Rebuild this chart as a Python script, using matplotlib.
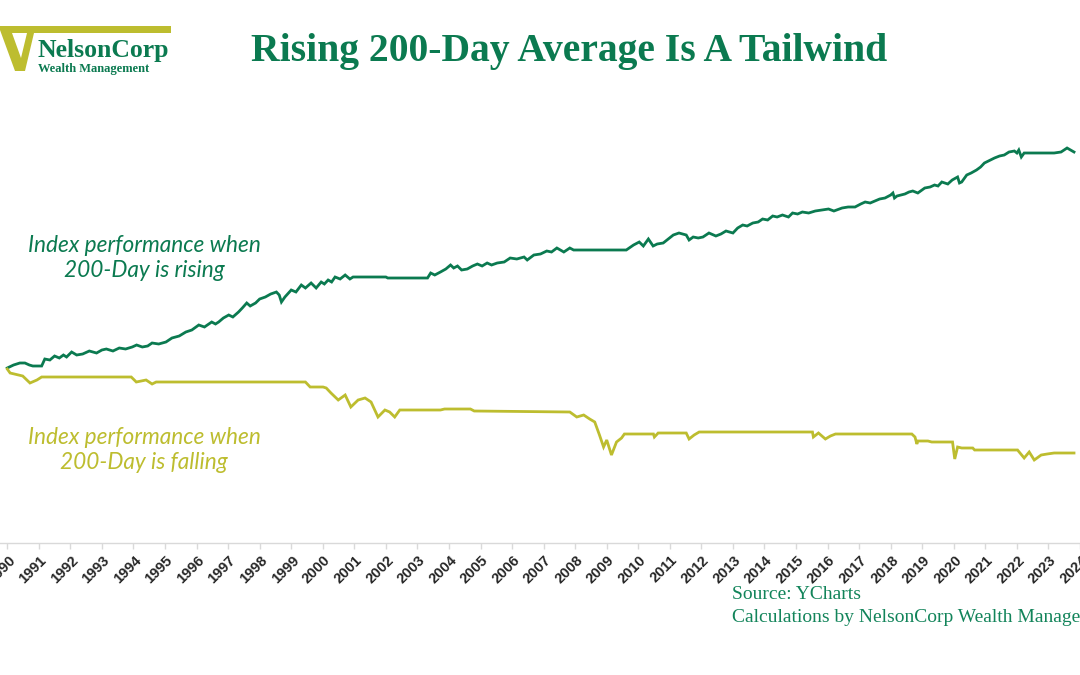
import matplotlib

matplotlib.use("Agg")
import matplotlib.pyplot as plt
from matplotlib.patches import Polygon
from matplotlib.transforms import ScaledTranslation

# Figure size in pixels (dpi 100)
W, H = 1080, 675

GREEN = "#0b7a50"
OLIVE = "#bdbd2f"
TEXT_GREEN = "#12845a"

# Year ticks along the bottom axis
years = list(range(1990, 2025))
year_labels = [str(y) for y in years]

# Index performance when the 200-day average is rising (relative level)
rising_t = [
    1990.00, 1990.20, 1990.40, 1990.56, 1990.70, 1990.81, 1991.09, 1991.19,
    1991.35, 1991.50, 1991.65, 1991.78, 1991.88, 1992.04, 1992.20, 1992.39,
    1992.60, 1992.83, 1993.00, 1993.14, 1993.35, 1993.55, 1993.75, 1993.96,
    1994.10, 1994.28, 1994.45, 1994.59, 1994.80, 1995.03, 1995.22, 1995.45,
    1995.66, 1995.85, 1996.07, 1996.25, 1996.48, 1996.60, 1996.70, 1996.85,
    1997.02, 1997.15, 1997.33, 1997.45, 1997.59, 1997.70, 1997.87, 1998.00,
    1998.18, 1998.35, 1998.53, 1998.62, 1998.69, 1998.80, 1999.00, 1999.15,
    1999.32, 1999.45, 1999.63, 1999.79, 1999.95, 2000.05, 2000.17, 2000.28,
    2000.39, 2000.55, 2000.71, 2000.86, 2000.96, 2002.00, 2002.06, 2003.32,
    2003.42, 2003.55, 2003.73, 2003.90, 2004.05, 2004.15, 2004.27, 2004.40,
    2004.58, 2004.75, 2004.90, 2005.05, 2005.21, 2005.35, 2005.53, 2005.75,
    2005.94, 2006.15, 2006.38, 2006.48, 2006.69, 2006.90, 2007.10, 2007.25,
    2007.42, 2007.64, 2007.83, 2007.95, 2009.62, 2009.85, 2010.03, 2010.16,
    2010.32, 2010.47, 2010.60, 2010.79, 2010.95, 2011.11, 2011.29, 2011.52,
    2011.61, 2011.74, 2011.90, 2012.05, 2012.24, 2012.46, 2012.62, 2012.78,
    2013.00, 2013.15, 2013.31, 2013.45, 2013.63, 2013.80, 2013.94, 2014.10,
    2014.26, 2014.40, 2014.57, 2014.76, 2014.89, 2015.05, 2015.20, 2015.40,
    2015.61, 2016.03, 2016.20, 2016.46, 2016.65, 2016.87, 2017.05, 2017.19,
    2017.35, 2017.50, 2017.65, 2017.82, 2018.00, 2018.07, 2018.12, 2018.20,
    2018.45, 2018.58, 2018.70, 2018.86, 2019.08, 2019.25, 2019.39, 2019.50,
    2019.62, 2019.81, 2019.95, 2020.12, 2020.18, 2020.25, 2020.41, 2020.55,
    2020.72, 2020.85, 2020.97, 2021.10, 2021.29, 2021.45, 2021.60, 2021.75,
    2021.92, 2022.00, 2022.06, 2022.14, 2022.23, 2023.18, 2023.40, 2023.59,
    2023.81,
]
rising_level = [
    175, 178, 180, 180, 178, 177, 177, 184,
    183, 187, 185, 188, 186, 191, 188, 189,
    192, 190, 193, 194, 192, 195, 194, 196,
    198, 196, 197, 200, 199, 201, 205, 207,
    211, 213, 218, 216, 221, 219, 221, 225,
    228, 226, 231, 235, 240, 237, 240, 244,
    246, 249, 251, 248, 241, 246, 253, 251,
    258, 255, 260, 255, 261, 259, 263, 261,
    266, 264, 268, 264, 266, 266, 265, 265,
    270, 268, 271, 274, 278, 275, 277, 273,
    274, 277, 279, 277, 280, 278, 280, 281,
    285, 284, 286, 283, 288, 289, 292, 291,
    295, 291, 295, 293, 293, 298, 301, 297,
    304, 297, 299, 300, 304, 308, 310, 308,
    303, 306, 305, 306, 310, 307, 309, 312,
    310, 315, 318, 317, 320, 321, 324, 323,
    327, 326, 328, 326, 330, 329, 331, 330,
    332, 334, 332, 335, 336, 336, 339, 341,
    340, 342, 344, 345, 348, 350, 345, 347,
    349, 351, 352, 350, 355, 356, 358, 357,
    361, 359, 363, 366, 360, 361, 368, 370,
    373, 376, 380, 382, 385, 387, 388, 391,
    392, 390, 393, 386, 390, 390, 391, 395,
    391,
]

# Index performance when the 200-day average is falling (relative level)
falling_t = [
    1990.00, 1990.09, 1990.49, 1990.72, 1990.94, 1991.09, 1993.93, 1994.09,
    1994.40, 1994.59, 1994.72, 1999.45, 1999.60, 2000.01, 2000.11, 2000.26,
    2000.49, 2000.71, 2000.89, 2001.12, 2001.34, 2001.53, 2001.75, 2001.97,
    2002.12, 2002.28, 2002.44, 2003.73, 2003.86, 2004.68, 2004.80, 2007.83,
    2008.05, 2008.27, 2008.46, 2008.62, 2008.77, 2008.90, 2009.00, 2009.15,
    2009.31, 2009.47, 2009.56, 2010.48, 2010.51, 2010.63, 2011.52, 2011.61,
    2011.77, 2011.93, 2015.52, 2015.55, 2015.71, 2015.93, 2016.09, 2016.25,
    2018.67, 2018.77, 2018.83, 2018.86, 2019.18, 2019.30, 2019.96, 2020.03,
    2020.12, 2020.25, 2020.60, 2020.66, 2022.02, 2022.23, 2022.39, 2022.55,
    2022.77, 2022.96, 2023.18, 2023.81,
]
falling_level = [
    174, 170, 167, 160, 163, 166, 166, 161,
    163, 159, 161, 161, 156, 156, 155, 150,
    143, 148, 136, 143, 145, 141, 126, 133,
    131, 126, 133, 133, 134, 134, 132, 131,
    126, 128, 124, 121, 108, 96, 103, 88,
    101, 105, 109, 109, 106, 110, 110, 104,
    108, 111, 111, 106, 110, 104, 107, 109,
    109, 106, 99, 102, 102, 101, 101, 84,
    96, 95, 95, 93, 93, 85, 91, 83,
    88, 89, 90, 90,
]


def fx(x):
    return x / W


def fy(y):
    return 1 - y / H


def draw_logo(fig):
    """Olive mark plus the NelsonCorp wordmark in the top-left corner."""
    mark = [(0, 26), (171, 26), (171, 33), (34, 33), (25, 71), (15, 71), (0, 30)]
    fig.patches.append(Polygon([(fx(x), fy(y)) for x, y in mark], closed=True,
                               transform=fig.transFigure, color=OLIVE, lw=0))
    notch = [(12, 33), (27, 33), (21, 58)]
    fig.patches.append(Polygon([(fx(x), fy(y)) for x, y in notch], closed=True,
                               transform=fig.transFigure, color="white", lw=0))
    fig.text(fx(37), fy(57), "NelsonCorp", family="Liberation Serif",
             weight="bold", size=18.5, color=GREEN, ha="left", va="baseline")
    fig.text(fx(38), fy(72), "Wealth Management", family="Liberation Serif",
             weight="bold", size=9, color=GREEN, ha="left", va="baseline")


def main():
    fig = plt.figure(figsize=(W / 100, H / 100), dpi=100)

    # axis line sits at y=543 px; 1990 tick at x=7.3 px, 31.73 px per year
    ax = fig.add_axes([0, fy(543), 1, (543 - 100) / H])
    x0 = 1990 + (0 - 7.3) / 31.73
    x1 = 1990 + (W - 7.3) / 31.73
    ax.set_xlim(x0, x1)
    ax.set_ylim(0, 443)

    ax.plot(rising_t, rising_level, color=GREEN, lw=2.0, solid_joinstyle="miter")
    ax.plot(falling_t, falling_level, color=OLIVE, lw=2.0, solid_joinstyle="miter")

    for side in ("top", "right", "left"):
        ax.spines[side].set_visible(False)
    ax.spines["bottom"].set_color("#d9d9d9")
    ax.spines["bottom"].set_linewidth(1.0)
    ax.set_yticks([])
    ax.set_xticks(years)
    ax.set_xticklabels(year_labels, rotation=45, ha="right", va="center",
                       rotation_mode="anchor", family="Liberation Sans",
                       weight="bold", size=10.5, color="#262626")
    ax.tick_params(axis="x", direction="out", length=4, width=1,
                   color="#d9d9d9", pad=7)
    # nudge the slanted labels a little to the right of their ticks
    shift = ScaledTranslation(4 / 72, 0, fig.dpi_scale_trans)
    for lab in ax.get_xticklabels():
        lab.set_transform(lab.get_transform() + shift)

    fig.text(fx(569), fy(51), "Rising 200-Day Average Is A Tailwind",
             family="Liberation Serif", weight="bold", size=28.5, color=GREEN,
             ha="center", va="center")

    fig.text(fx(144), fy(258), "Index performance when\n200-Day is rising",
             family="Lato", style="italic", size=16.3, color=GREEN,
             ha="center", va="center", linespacing=1.2)
    fig.text(fx(144), fy(450), "Index performance when\n200-Day is falling",
             family="Lato", style="italic", size=16.3, color=OLIVE,
             ha="center", va="center", linespacing=1.2)

    fig.text(fx(732), fy(606), "Source: YCharts\nCalculations by NelsonCorp Wealth Management",
             family="Liberation Serif", size=14, color=TEXT_GREEN,
             ha="left", va="center", linespacing=1.4)

    draw_logo(fig)
    fig.savefig("out.png", dpi=100)


if __name__ == "__main__":
    main()
